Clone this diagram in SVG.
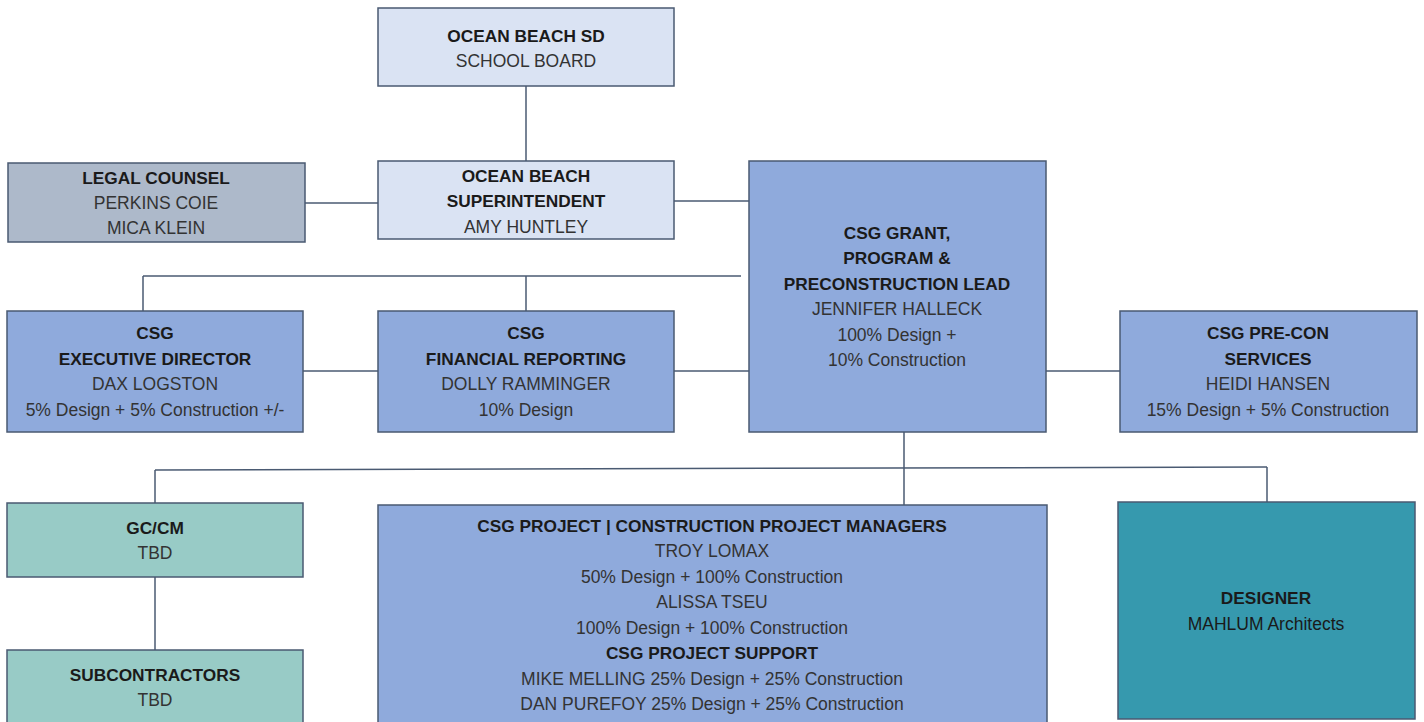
<svg xmlns="http://www.w3.org/2000/svg" width="1424" height="722" viewBox="0 0 1424 722">
<style>
.box{stroke:#4a5a72;stroke-width:1.5}
.l1{fill:#dae3f3}
.gr{fill:#adb9ca}
.bl{fill:#8faadc}
.tl{fill:#98cbc6}
.td{fill:#3699ae}
text{font-family:"Liberation Sans",Arial,sans-serif;font-size:17.5px;text-anchor:middle}
.b{font-weight:bold;fill:#1a1a1a;font-size:17.3px}
.r{fill:#333333}
.con line{stroke:#4a5a72;stroke-width:1.5;fill:none}
</style>
<rect width="1424" height="722" fill="#ffffff"/>
<g class="con" id="connectors">
<line x1="526" y1="86" x2="526" y2="161"/>
<line x1="305" y1="203" x2="378" y2="203"/>
<line x1="674" y1="201" x2="749" y2="201"/>
<line x1="143" y1="276" x2="741" y2="276"/>
<line x1="143" y1="276" x2="143" y2="311"/>
<line x1="526" y1="276" x2="526" y2="311"/>
<line x1="303" y1="371" x2="378" y2="371"/>
<line x1="674" y1="371" x2="749" y2="371"/>
<line x1="1046" y1="371" x2="1120" y2="371"/>
<line x1="904" y1="432" x2="904" y2="505"/>
<line x1="155" y1="470" x2="1267" y2="467"/>
<line x1="155" y1="470" x2="155" y2="503"/>
<line x1="1267" y1="467" x2="1267" y2="502"/>
<line x1="155" y1="577" x2="155" y2="650"/>
</g>
<g id="school-board">
<rect class="box l1" x="378" y="8" width="296" height="78"/>
<text class="b" x="526" y="42">OCEAN BEACH SD</text>
<text class="r" x="526" y="67">SCHOOL BOARD</text>
</g>
<g id="superintendent">
<rect class="box l1" x="378" y="161" width="296" height="78"/>
<text class="b" x="526" y="182">OCEAN BEACH</text>
<text class="b" x="526" y="207">SUPERINTENDENT</text>
<text class="r" x="526" y="233">AMY HUNTLEY</text>
</g>
<g id="legal-counsel">
<rect class="box gr" x="8" y="163" width="297" height="79"/>
<text class="b" x="156" y="184">LEGAL COUNSEL</text>
<text class="r" x="156" y="209">PERKINS COIE</text>
<text class="r" x="156" y="234">MICA KLEIN</text>
</g>
<g id="csg-grant">
<rect class="box bl" x="749" y="161" width="297" height="271"/>
<text class="b" x="897" y="239">CSG GRANT,</text>
<text class="b" x="897" y="264">PROGRAM &amp;</text>
<text class="b" x="897" y="290">PRECONSTRUCTION LEAD</text>
<text class="r" x="897" y="315">JENNIFER HALLECK</text>
<text class="r" x="897" y="341">100% Design +</text>
<text class="r" x="897" y="366">10% Construction</text>
</g>
<g id="exec-director">
<rect class="box bl" x="7" y="311" width="296" height="121"/>
<text class="b" x="155" y="339">CSG</text>
<text class="b" x="155" y="365">EXECUTIVE DIRECTOR</text>
<text class="r" x="155" y="390">DAX LOGSTON</text>
<text class="r" x="155" y="416">5% Design + 5% Construction +/-</text>
</g>
<g id="financial">
<rect class="box bl" x="378" y="311" width="296" height="121"/>
<text class="b" x="526" y="339">CSG</text>
<text class="b" x="526" y="365">FINANCIAL REPORTING</text>
<text class="r" x="526" y="390">DOLLY RAMMINGER</text>
<text class="r" x="526" y="416">10% Design</text>
</g>
<g id="precon">
<rect class="box bl" x="1120" y="311" width="297" height="121"/>
<text class="b" x="1268" y="339">CSG PRE-CON</text>
<text class="b" x="1268" y="365">SERVICES</text>
<text class="r" x="1268" y="390">HEIDI HANSEN</text>
<text class="r" x="1268" y="416">15% Design + 5% Construction</text>
</g>
<g id="gccm">
<rect class="box tl" x="7" y="503" width="296" height="74"/>
<text class="b" x="155" y="534">GC/CM</text>
<text class="r" x="155" y="559">TBD</text>
</g>
<g id="subcontractors">
<rect class="box tl" x="7" y="650" width="296" height="80"/>
<text class="b" x="155" y="681">SUBCONTRACTORS</text>
<text class="r" x="155" y="706">TBD</text>
</g>
<g id="project-managers">
<rect class="box bl" x="378" y="505" width="669" height="225"/>
<text class="b" x="712" y="532">CSG PROJECT | CONSTRUCTION PROJECT MANAGERS</text>
<text class="r" x="712" y="557">TROY LOMAX</text>
<text class="r" x="712" y="583">50% Design + 100% Construction</text>
<text class="r" x="712" y="608">ALISSA TSEU</text>
<text class="r" x="712" y="634">100% Design + 100% Construction</text>
<text class="b" x="712" y="659">CSG PROJECT SUPPORT</text>
<text class="r" x="712" y="685">MIKE MELLING 25% Design + 25% Construction</text>
<text class="r" x="712" y="710">DAN PUREFOY 25% Design + 25% Construction</text>
</g>
<g id="designer">
<rect class="box td" x="1118" y="502" width="297" height="217"/>
<text class="b" x="1266" y="604">DESIGNER</text>
<text class="r" x="1266" y="630" style="fill:#1a1a1a">MAHLUM Architects</text>
</g>
</svg>
